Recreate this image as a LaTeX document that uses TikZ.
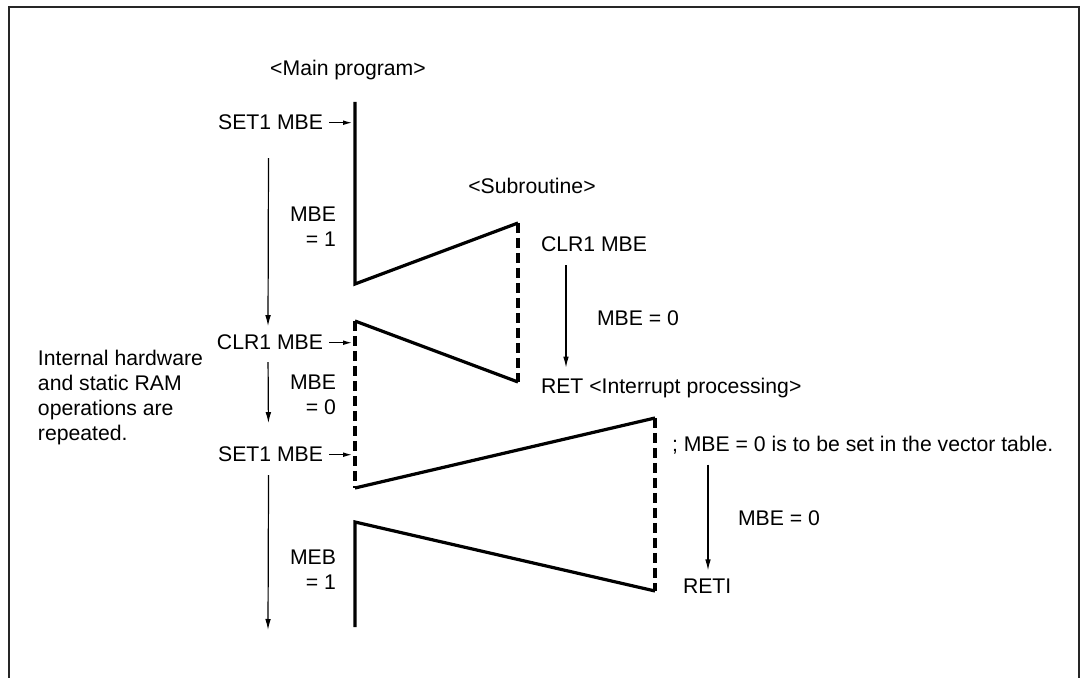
\documentclass[tikz,border=0pt]{standalone}
\usepackage{fontspec}
\setmainfont{Liberation Sans}
\usetikzlibrary{arrows.meta,positioning}

\begin{document}
\begin{tikzpicture}[x=0.5pt, y=-0.5pt,
    lbl/.style={inner sep=0pt, outer sep=0pt, font=\fontsize{10.6}{12.5}\selectfont},
    twoline/.style={lbl, align=right, anchor=east},
    flow/.style={-{Latex[length=5.5pt,width=2.8pt]}, line width=0.6pt},
    ptr/.style={-{Latex[length=4.5pt,width=2.4pt]}, line width=0.6pt, shorten <=3pt, shorten >=1.5pt},
    prog/.style={line width=1.6pt, line join=miter},
    progdash/.style={prog, dash pattern=on 5pt off 2.5pt}]

    \useasboundingbox (0,0) rectangle (1082,678);

    % Frame
    \draw[line width=1pt, black!85] (9,678) -- (9,7) -- (1079,7) -- (1079,678);

    % Program flow corners
    \coordinate (m0) at (355,102);
    \coordinate (m1) at (355,284);
    \coordinate (s0) at (518,223);
    \coordinate (s1) at (518,382);
    \coordinate (m2) at (355,321);
    \coordinate (m3) at (355,488);
    \coordinate (i0) at (655,418);
    \coordinate (i1) at (655,591);
    \coordinate (m4) at (355,522);
    \coordinate (m5) at (355,627);
    \coordinate (flowend) at (268,630);

    % Program flow
    \draw[prog] (m0) -- (m1) -- (s0);
    \draw[progdash] (s0) -- (s1);
    \draw[prog] (s1) -- (m2);
    \draw[progdash] (m2) -- (m3);
    \draw[prog] (m3) -- (i0);
    \draw[progdash] (i0) -- (i1);
    \draw[prog] (i1) -- (m4) -- (m5);

    % Headings
    \node[lbl, anchor=base] (mainhd) at (348,76) {<Main program>};
    \node[lbl, anchor=base] (subhd) at (532,194) {<Subroutine>};

    % Main program
    \node[lbl, anchor=base east] (set1a) at (323,130) {SET1 MBE};
    \node[lbl, anchor=base east] (clr1a) at (323,350) {CLR1 MBE};
    \node[lbl, anchor=base east] (set1b) at (323,462) {SET1 MBE};
    \node[twoline] (mbe1) at (336,226.5) {MBE\\= 1};
    \node[twoline] (mbe0) at (336,395) {MBE\\= 0};
    \node[twoline] (meb1) at (336,570) {MEB\\= 1};
    \node[lbl, align=left, anchor=north west] (note) at (38,350)
        {Internal hardware\\and static RAM\\operations are\\repeated.};

    % Subroutine
    \node[lbl, anchor=base west] (clr1s) at (541,252) {CLR1 MBE};
    \node[lbl, anchor=base west] (mbe0s) at (597,326) {MBE = 0};
    \node[lbl, anchor=base west] (ret) at (541,394) {RET <Interrupt processing>};

    % Interrupt processing
    \node[lbl, anchor=base west] (vect) at (672,452) {; MBE = 0 is to be set in the vector table.};
    \node[lbl, anchor=base west] (mbe0i) at (738,525) {MBE = 0};
    \node[lbl, anchor=base west] (reti) at (683,594) {RETI};

    % Pointers
    \draw[ptr] (set1a.east) -- (set1a.east -| m0);
    \draw[ptr] (clr1a.east) -- (clr1a.east -| m0);
    \draw[ptr] (set1b.east) -- (set1b.east -| m0);

    % Flow arrows
    \draw[flow, shorten <=14pt, shorten >=4.5pt] ([xshift=-1pt]set1a.south) -- ([xshift=-1pt]clr1a.north);
    \draw[flow, shorten <=6pt, shorten >=12pt] ([xshift=-1pt]clr1a.south) -- ([xshift=-1pt]set1b.north);
    \draw[flow, shorten <=6.5pt] ([xshift=-1pt]set1b.south) -- (flowend);
    \draw[flow, shorten <=6.5pt, shorten >=5.5pt] ([xshift=12.5pt]clr1s.south west) -- ([xshift=12.5pt]ret.north west);
    \draw[flow, shorten <=5pt, shorten >=4.5pt] ([xshift=18pt]vect.south west) -- ([xshift=12.5pt]reti.north west);
\end{tikzpicture}
\end{document}
